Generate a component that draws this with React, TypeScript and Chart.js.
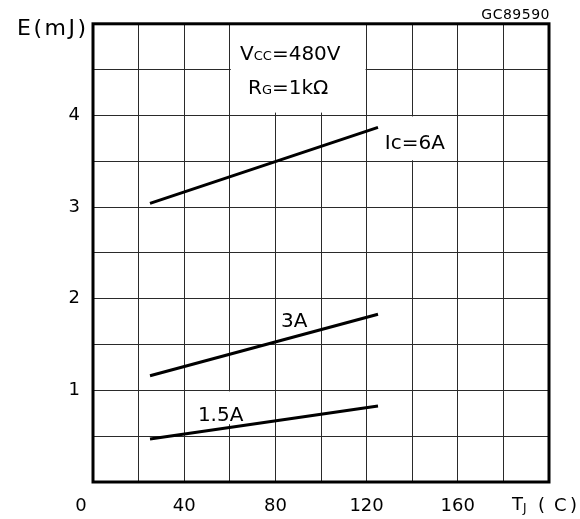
import React, { useEffect, useRef } from "react";
import { Chart, registerables } from "chart.js";

Chart.register(...registerables);

// Junction temperature (°C) at which each curve starts and ends
const tempC = [25, 125];
// Switching energy E (mJ) for each collector current
const energyIc6A = [3.04, 3.87];
const energyIc3A = [1.16, 1.83];
const energyIc15A = [0.47, 0.83];

const xShownTicks = [40, 80, 120, 160];
const yShownTicks = [1, 2, 3, 4];

const FONT = "'DejaVu Sans', sans-serif";

type Pt = { x: number; y: number };
const pts = (ys: number[]): Pt[] => ys.map((y, i) => ({ x: tempC[i], y }));

const annotationPlugin = {
  id: "annotations",
  beforeDatasetsDraw(chart: any) {
    const { ctx, scales } = chart;
    const x = scales.x;
    const y = scales.y;
    ctx.save();
    ctx.fillStyle = "#ffffff";
    // white label backgrounds that hide the grid
    const boxes = [
      [60, 120, 4.02, 5],
      [126, 160, 3.5, 4.0],
      [40, 80, 0.62, 1.0],
    ];
    for (const [x0, x1, y0, y1] of boxes) {
      const l = x.getPixelForValue(x0) + 1;
      const r = x.getPixelForValue(x1) - 1;
      const t = y.getPixelForValue(y1) + 1;
      const b = y.getPixelForValue(y0) - 1;
      ctx.fillRect(l, t, r - l, b - t);
    }
    ctx.restore();
  },
  afterDatasetsDraw(chart: any) {
    const { ctx, scales, chartArea } = chart;
    const x = scales.x;
    const y = scales.y;
    ctx.save();
    ctx.fillStyle = "#000";
    ctx.textBaseline = "alphabetic";
    ctx.textAlign = "left";

    const drawParts = (parts: [string, number][], px: number, py: number) => {
      let cx = px;
      for (const [s, size] of parts) {
        ctx.font = `${size}px ${FONT}`;
        ctx.fillText(s, cx, py);
        cx += ctx.measureText(s).width;
      }
    };

    drawParts([["V", 20], ["CC", 13], ["=480V", 20]], x.getPixelForValue(64.5), y.getPixelForValue(4.61));
    drawParts([["R", 20], ["G", 13], ["=1kΩ", 20]], x.getPixelForValue(68), y.getPixelForValue(4.23));
    drawParts([["I", 20], ["c", 20], ["=6A", 20]], x.getPixelForValue(128), y.getPixelForValue(3.63));
    drawParts([["3A", 20]], x.getPixelForValue(82.5), y.getPixelForValue(1.69));
    drawParts([["1.5A", 20]], x.getPixelForValue(46), y.getPixelForValue(0.67));

    // frame
    ctx.lineWidth = 3;
    ctx.strokeStyle = "#000";
    ctx.strokeRect(chartArea.left, chartArea.top, chartArea.right - chartArea.left, chartArea.bottom - chartArea.top);

    // axis captions
    ctx.font = `22px ${FONT}`;
    ctx.textAlign = "left";
    ctx.textBaseline = "middle";
    (ctx as any).letterSpacing = "2.5px";
    ctx.fillText("E(mJ)", 17, chartArea.top + 5);
    (ctx as any).letterSpacing = "0px";

    ctx.font = `14px ${FONT}`;
    ctx.textAlign = "right";
    ctx.textBaseline = "alphabetic";
    (ctx as any).letterSpacing = "0.5px";
    ctx.fillText("GC89590", chartArea.right + 1, chartArea.top - 5);
    (ctx as any).letterSpacing = "0px";

    const ly = chartArea.bottom + 24;
    ctx.font = `18px ${FONT}`;
    ctx.textAlign = "center";
    ctx.textBaseline = "middle";
    ctx.fillText("0", x.getPixelForValue(0) - 12, ly);

    ctx.textAlign = "left";
    const tx = x.getPixelForValue(200) - 37;
    ctx.fillText("T", tx, ly - 1);
    ctx.font = `12px ${FONT}`;
    ctx.fillText("J", tx + 11, ly + 3);
    ctx.font = `18px ${FONT}`;
    ctx.fillText("(", tx + 26, ly);
    ctx.fillText("C", tx + 42, ly);
    ctx.fillText(")", tx + 58, ly);
    ctx.restore();
  },
};

export default function App() {
  const ref = useRef<HTMLCanvasElement | null>(null);
  useEffect(() => {
    if (!ref.current) return;
    const line = (data: number[]) => ({
      data: pts(data),
      borderColor: "#000",
      borderWidth: 3,
      pointRadius: 0,
      fill: false,
      tension: 0,
    });
    const chart = new Chart(ref.current, {
      type: "line",
      data: {
        datasets: [line(energyIc6A), line(energyIc3A), line(energyIc15A)],
      },
      options: {
        animation: false,
        responsive: false,
        devicePixelRatio: 1,
        layout: { padding: { top: 21, right: 31, left: 0, bottom: 0 } },
        plugins: { legend: { display: false }, tooltip: { enabled: false } },
        scales: {
          x: {
            type: "linear",
            min: 0,
            max: 200,
            border: { display: false },
            grid: { color: "#2a2a2a", lineWidth: 1, drawTicks: false },
            ticks: {
              stepSize: 20,
              autoSkip: false,
              maxRotation: 0,
              padding: 14,
              color: "#000",
              font: { family: FONT, size: 18 },
              callback: (v: any) => (xShownTicks.includes(Number(v)) ? String(v) : ""),
            },
            afterFit: (s: any) => {
              s.height = 37;
            },
          },
          y: {
            type: "linear",
            min: 0,
            max: 5,
            border: { display: false },
            grid: { color: "#2a2a2a", lineWidth: 1, drawTicks: false },
            ticks: {
              stepSize: 0.5,
              autoSkip: false,
              padding: 13,
              color: "#000",
              font: { family: FONT, size: 18 },
              callback: (v: any) => (yShownTicks.includes(Number(v)) ? String(v) : ""),
            },
            afterFit: (s: any) => {
              s.width = 93;
            },
          },
        },
      },
      plugins: [annotationPlugin],
    });
    return () => chart.destroy();
  }, []);
  return (
    <div style={{ position: "fixed", left: 0, top: 0, width: 580, height: 519, background: "#fff" }}>
      <canvas ref={ref} width={580} height={519} style={{ display: "block" }} />
    </div>
  );
}
